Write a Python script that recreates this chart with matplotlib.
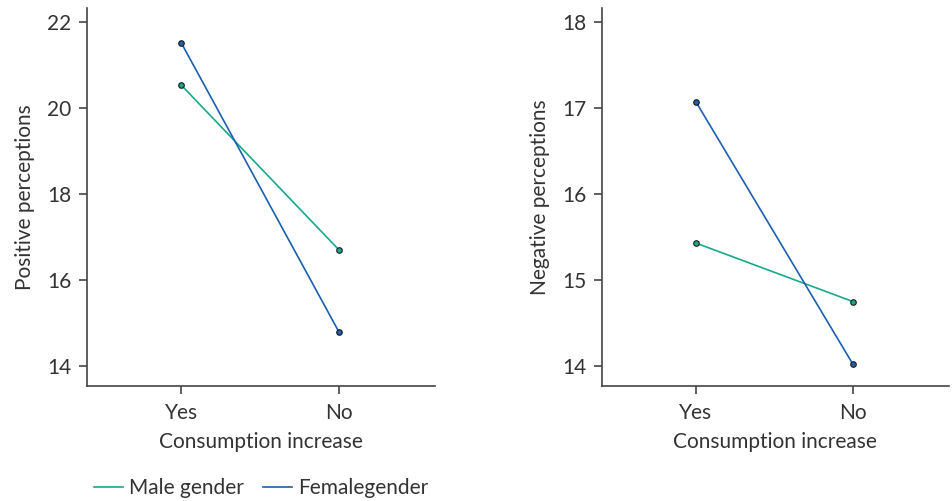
import numpy as np
import matplotlib.pyplot as plt
from matplotlib.lines import Line2D

plt.rcParams['font.family'] = ['Lato', 'DejaVu Sans']

categorias = ['Yes', 'No']
pos_male = [20.53, 16.70]
pos_female = [21.51, 14.79]
neg_male = [15.43, 14.75]
neg_female = [17.07, 14.02]

verde = '#17a98a'
azul = '#1c5fae'
gris = '#333333'

fig = plt.figure(figsize=(9.52, 5.01), dpi=100)
ax1 = fig.add_axes([0.0914, 0.2295, 0.3655, 0.7545])
ax2 = fig.add_axes([0.632, 0.2295, 0.3648, 0.7545])

def panel(ax, male, female, ylim, yticks, ylabel):
	x = np.arange(len(categorias))
	ax.plot(x, male, color=verde, lw=1.2, marker='o', ms=4, mfc=verde, mec='#1a1a1a', mew=0.8)
	ax.plot(x, female, color=azul, lw=1.2, marker='o', ms=4, mfc=azul, mec='#1a1a1a', mew=0.8)
	ax.set_xlim(-0.6, 1.61)
	ax.set_ylim(*ylim)
	ax.set_xticks(x)
	ax.set_xticklabels(categorias)
	ax.set_yticks(yticks)
	ax.spines['top'].set_visible(False)
	ax.spines['right'].set_visible(False)
	for s in ['left', 'bottom']:
		ax.spines[s].set_color('#444444')
		ax.spines[s].set_linewidth(1.2)
	ax.tick_params(colors='#444444', width=1.2, length=6, labelsize=15, labelcolor=gris)
	ax.tick_params(axis='x', pad=6)
	ax.tick_params(axis='y', pad=5)
	ax.set_xlabel('Consumption increase', fontsize=15, color=gris, labelpad=7)
	ax.set_ylabel(ylabel, fontsize=15, color=gris, labelpad=9)

panel(ax1, pos_male, pos_female, (13.53, 22.33), [14, 16, 18, 20, 22], 'Positive perceptions')
panel(ax2, neg_male, neg_female, (13.77, 18.16), [14, 15, 16, 17, 18], 'Negative perceptions')

handles = [Line2D([], [], color=verde, lw=1.2), Line2D([], [], color=azul, lw=1.2)]
fig.legend(handles, ['Male gender', 'Femalegender'], loc='center left', bbox_to_anchor=(0.079, 0.026),
	ncol=2, frameon=False, fontsize=15, handlelength=1.4, handletextpad=0.3, columnspacing=0.9,
	labelcolor=gris)

fig.savefig('out.png', dpi=100)
